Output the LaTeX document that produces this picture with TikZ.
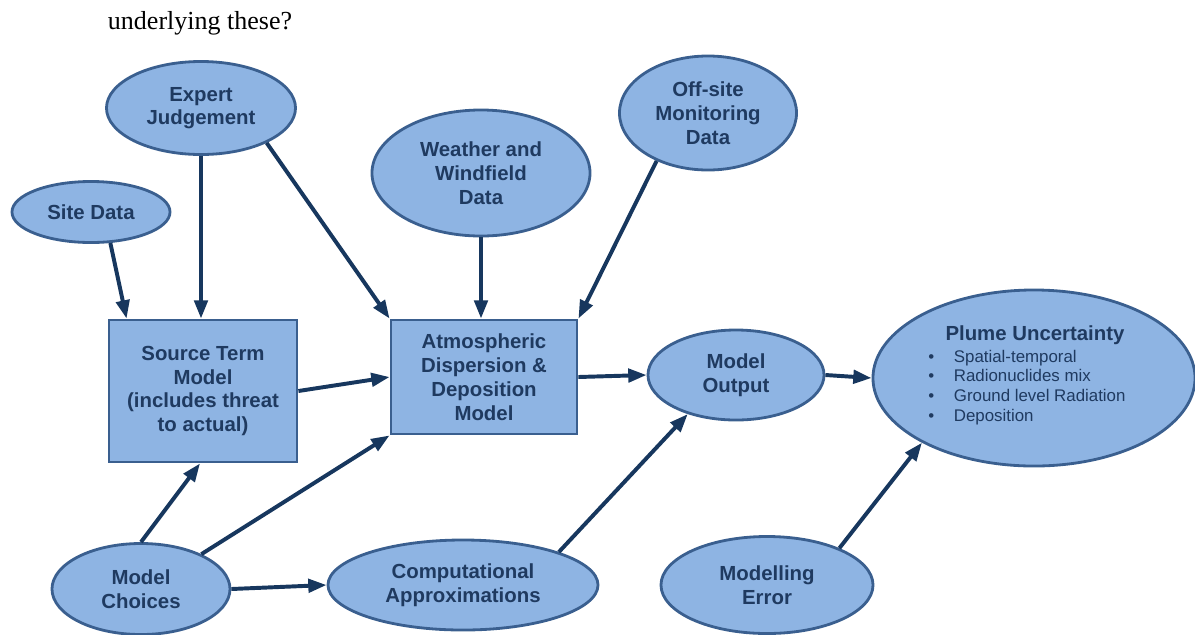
\documentclass[tikz,border=0pt]{standalone}
\usepackage{fontspec}
\setmainfont{Liberation Serif}
\setsansfont{Liberation Sans}
\usetikzlibrary{shapes.geometric,arrows.meta,calc}
\definecolor{bubblefill}{HTML}{8EB4E3}
\definecolor{bubbleline}{HTML}{3A5F8F}
\definecolor{arrowblue}{HTML}{17375E}
\definecolor{labelblue}{HTML}{1F3A60}
\begin{document}
\begin{tikzpicture}[x=0.025cm, y=-0.025cm,
		bubble/.style={ellipse, draw=bubbleline, line width=2pt, fill=bubblefill, inner sep=0pt, align=center, text=labelblue, font=\sffamily\bfseries\fontsize{14.5}{17}\selectfont},
		block/.style={rectangle, draw=bubbleline, line width=2pt, fill=bubblefill, inner sep=0pt, align=center, text=labelblue, font=\sffamily\bfseries\fontsize{14.5}{17}\selectfont},
		link/.style={-{Triangle[length=13pt, width=9.5pt]}, line width=2.8pt, draw=arrowblue}]
			\useasboundingbox (0,0) rectangle (1195,634);
			\node[anchor=base west, font=\rmfamily\fontsize{18.5}{22}\selectfont] (question) at (103,29) {underlying these?};
			% upper inputs
			\node[bubble, minimum width=4.725cm, minimum height=2.325cm] (nodeExpert) at (201,108) {\raisebox{-3pt}{\shortstack{Expert\\Judgement}}};
			\node[bubble, minimum width=3.95cm, minimum height=1.525cm] (nodeSite) at (91,212) {Site Data};
			\node[bubble, minimum width=5.45cm, minimum height=3.15cm] (nodeWeather) at (481,173) {Weather and\\Windfield\\Data};
			\node[bubble, minimum width=4.425cm, minimum height=2.85cm] (nodeOffsite) at (708,113) {Off-site\\Monitoring\\Data};
			% models
			\node[block, minimum width=4.7cm, minimum height=3.55cm] (nodeSource) at (203,391) {Source Term\\Model\\(includes threat\\to actual)};
			\node[block, minimum width=4.65cm, minimum height=2.85cm] (nodeAtmos) at (484,377) {Atmospheric\\Dispersion \&\\Deposition\\Model};
			\node[bubble, minimum width=4.4cm, minimum height=2.25cm] (nodeOutput) at (736,375) {Model\\Output};
			\node[bubble, minimum width=8.05cm, minimum height=4.4cm] (nodePlume) at (1034,378) {};
			\node[anchor=base, text=labelblue, font=\sffamily\bfseries\fontsize{14.5}{17}\selectfont] (plumeTitle) at (1035,340) {Plume Uncertainty};
			\node[anchor=base west, inner sep=0pt, text=labelblue, font=\sffamily\fontsize{12}{14.2}\selectfont] (plumeList) at (928,362)
				{\begin{tabular}[t]{@{}l@{\hspace{14pt}}l@{}}
					• & Spatial-temporal\\
					• & Radionuclides mix\\
					• & Ground level Radiation\\
					• & Deposition
				\end{tabular}};
			% lower inputs
			\node[bubble, minimum width=4.45cm, minimum height=2.275cm] (nodeChoices) at (141,589) {Model\\Choices};
			\node[bubble, minimum width=6.75cm, minimum height=2.25cm] (nodeComp) at (463,585) {Computational\\Approximations};
			\node[bubble, minimum width=5.3cm, minimum height=2.425cm] (nodeError) at (767,585) {Modelling\\Error};
			% arrows
			\draw[link] (nodeSite.-58) -- ($(nodeSource.north west)+(19,0)$);
			\draw[link] (nodeExpert.south) -- (nodeExpert.south |- nodeSource.north);
			\draw[link] (nodeExpert.-28) -- (nodeAtmos.north west);
			\draw[link] (nodeWeather.south) -- (nodeWeather.south |- nodeAtmos.north);
			\draw[link] (nodeOffsite.223) -- (nodeAtmos.north east);
			\draw[link] (nodeSource.east) -- (nodeAtmos.west);
			\draw[link] (nodeAtmos.east) -- (nodeOutput.west);
			\draw[link] (nodeOutput.east) -- (nodePlume.west);
			\draw[link] (nodeChoices.north) -- ($(nodeSource.south)+(-3,0)$);
			\draw[link] (nodeChoices.30) -- (nodeAtmos.south west);
			\draw[link] (nodeChoices.east) -- (nodeComp.west);
			\draw[link] (nodeComp.19) -- (nodeOutput.219);
			\draw[link] (nodeError.27) -- (nodePlume.210);
		\end{tikzpicture}
\end{document}
